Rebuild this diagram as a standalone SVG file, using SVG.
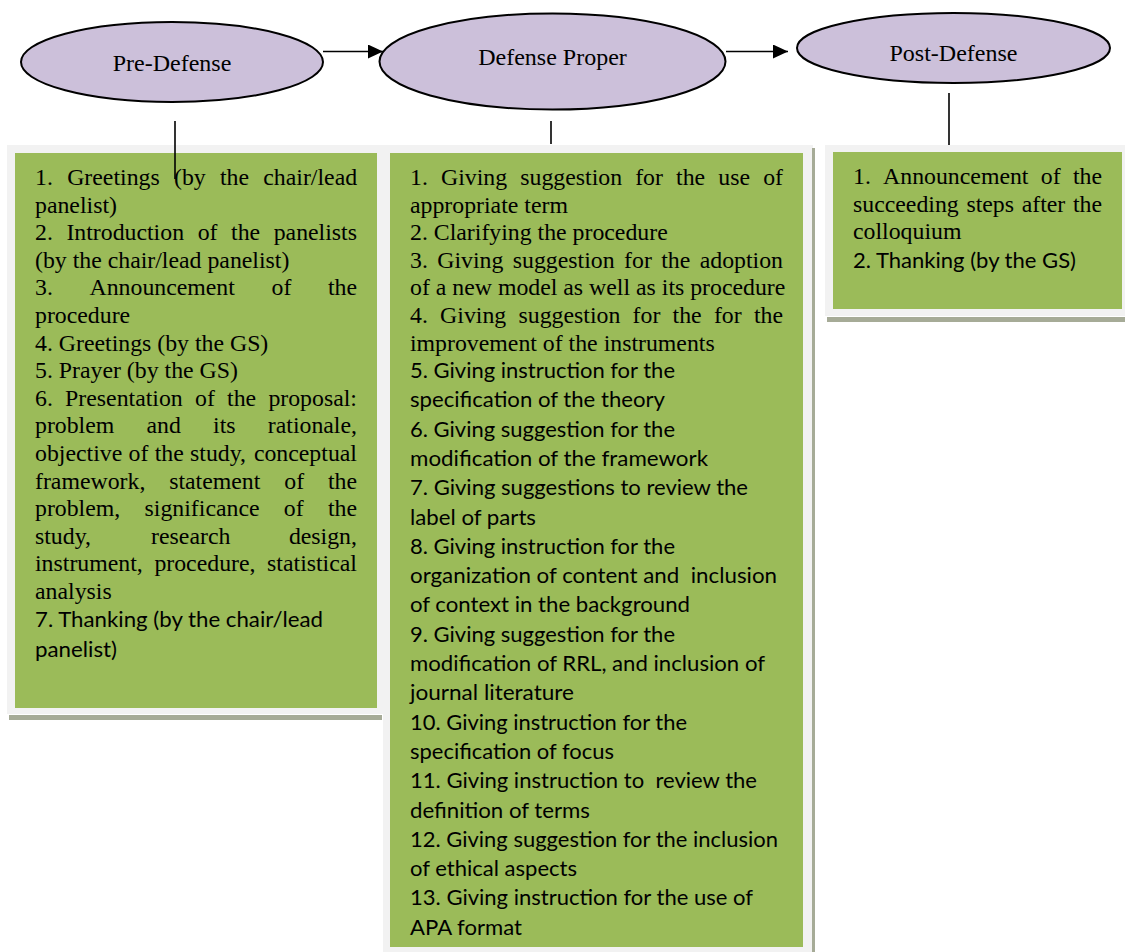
<svg xmlns="http://www.w3.org/2000/svg" width="1125" height="952" viewBox="0 0 1125 952">
<defs>
<style>
.ell{fill:#ccc0da;stroke:#000;stroke-width:2}
.lab{font-family:"Liberation Serif","Times New Roman",serif;font-size:24px;fill:#000;text-anchor:middle}
.frame{fill:#f2f2f2}
.green{fill:#9bbb59}
.shadow{fill:#a6ab97}
.t{font-family:"Liberation Serif","Times New Roman",serif;font-size:23.8px;fill:#000}
.c{font-family:Lato,"Open Sans",sans-serif;font-size:22px;fill:#000;white-space:pre}
.conn{stroke:#000;stroke-width:1.6;fill:none}
</style>
<marker id="arr" markerUnits="userSpaceOnUse" markerWidth="16" markerHeight="14" refX="15" refY="7" orient="auto">
<path d="M0,0 L15,7 L0,14 z" fill="#000"/>
</marker>
</defs>
<rect width="1125" height="952" fill="#fff"/>

<g id="box-pre">
<rect class="shadow" x="9" y="715" width="373" height="5"/>
<rect class="frame" x="7" y="145" width="376" height="569"/>
<rect class="green" x="15" y="153" width="362" height="555"/>
<text class="t" y="185"><tspan x="35">1.</tspan><tspan x="67.2">Greetings</tspan><tspan x="174">(by</tspan><tspan x="220">the</tspan><tspan x="263.3">chair/lead</tspan></text>
<text class="t" x="35" y="212.6">panelist)</text>
<text class="t" y="240.2"><tspan x="35">2.</tspan><tspan x="66.4">Introduction</tspan><tspan x="197.7">of</tspan><tspan x="231.1">the</tspan><tspan x="273.7">panelists</tspan></text>
<text class="t" x="35" y="267.8">(by the chair/lead panelist)</text>
<text class="t" y="295.4"><tspan x="35">3.</tspan><tspan x="89.5">Announcement</tspan><tspan x="271.5">of</tspan><tspan x="327.9">the</tspan></text>
<text class="t" x="35" y="323">procedure</text>
<text class="t" x="35" y="350.6">4. Greetings (by the GS)</text>
<text class="t" x="35" y="378.2">5. Prayer (by the GS)</text>
<text class="t" y="405.8"><tspan x="35">6.</tspan><tspan x="65.1">Presentation</tspan><tspan x="195">of</tspan><tspan x="227.1">the</tspan><tspan x="268.4">proposal:</tspan></text>
<text class="t" y="433.4"><tspan x="35">problem</tspan><tspan x="146.5">and</tspan><tspan x="213.1">its</tspan><tspan x="267.8">rationale,</tspan></text>
<text class="t" y="461"><tspan x="35">objective</tspan><tspan x="128.6">of</tspan><tspan x="154.7">the</tspan><tspan x="190.1">study,</tspan><tspan x="253.9">conceptual</tspan></text>
<text class="t" y="488.6"><tspan x="35">framework,</tspan><tspan x="169.2">statement</tspan><tspan x="284.3">of</tspan><tspan x="327.9">the</tspan></text>
<text class="t" y="516.2"><tspan x="35">problem,</tspan><tspan x="144.6">significance</tspan><tspan x="283.8">of</tspan><tspan x="327.9">the</tspan></text>
<text class="t" y="543.8"><tspan x="35">study,</tspan><tspan x="151.1">research</tspan><tspan x="288.9">design,</tspan></text>
<text class="t" y="571.4"><tspan x="35">instrument,</tspan><tspan x="154.4">procedure,</tspan><tspan x="267.1">statistical</tspan></text>
<text class="t" x="35" y="599">analysis</text>
<text class="c" x="35" y="627" textLength="288" lengthAdjust="spacingAndGlyphs">7. Thanking (by the chair/lead</text>
<text class="c" x="35" y="656.5" textLength="82" lengthAdjust="spacingAndGlyphs">panelist)</text>
</g>

<g id="box-proper">
<rect class="frame" x="383" y="145" width="430" height="807"/>
<rect class="shadow" x="812" y="148" width="3" height="804"/>
<rect class="green" x="390" y="153" width="413" height="794"/>
<text class="t" y="185"><tspan x="410">1.</tspan><tspan x="441">Giving</tspan><tspan x="520.3">suggestion</tspan><tspan x="635.2">for</tspan><tspan x="676.1">the</tspan><tspan x="718.3">use</tspan><tspan x="763.2">of</tspan></text>
<text class="t" x="410" y="212.6">appropriate term</text>
<text class="t" x="410" y="240.2">2. Clarifying the procedure</text>
<text class="t" y="267.8"><tspan x="410">3.</tspan><tspan x="437.3">Giving</tspan><tspan x="512.8">suggestion</tspan><tspan x="624.1">for</tspan><tspan x="661.2">the</tspan><tspan x="699.7">adoption</tspan></text>
<text class="t" x="410" y="295.4">of a new model as well as its procedure</text>
<text class="t" y="323"><tspan x="410">4.</tspan><tspan x="440.1">Giving</tspan><tspan x="518.5">suggestion</tspan><tspan x="632.6">for</tspan><tspan x="672.6">the</tspan><tspan x="713.9">for</tspan><tspan x="753.9">the</tspan></text>
<text class="t" x="410" y="350.6">improvement of the instruments</text>
<text class="c" x="410" y="378" textLength="265" lengthAdjust="spacingAndGlyphs">5. Giving instruction for the</text>
<text class="c" x="410" y="407.3" textLength="255" lengthAdjust="spacingAndGlyphs">specification of the theory</text>
<text class="c" x="410" y="436.6" textLength="265" lengthAdjust="spacingAndGlyphs">6. Giving suggestion for the</text>
<text class="c" x="410" y="465.9" textLength="298" lengthAdjust="spacingAndGlyphs">modification of the framework</text>
<text class="c" x="410" y="495.2" textLength="338" lengthAdjust="spacingAndGlyphs">7. Giving suggestions to review the</text>
<text class="c" x="410" y="524.5" textLength="126" lengthAdjust="spacingAndGlyphs">label of parts</text>
<text class="c" x="410" y="553.8" textLength="265" lengthAdjust="spacingAndGlyphs">8. Giving instruction for the</text>
<text class="c" x="410" y="583.1" textLength="367" lengthAdjust="spacingAndGlyphs">organization of content and  inclusion</text>
<text class="c" x="410" y="612.4" textLength="280" lengthAdjust="spacingAndGlyphs">of context in the background</text>
<text class="c" x="410" y="641.7" textLength="265" lengthAdjust="spacingAndGlyphs">9. Giving suggestion for the</text>
<text class="c" x="410" y="671" textLength="355" lengthAdjust="spacingAndGlyphs">modification of RRL, and inclusion of</text>
<text class="c" x="410" y="700.3" textLength="164" lengthAdjust="spacingAndGlyphs">journal literature</text>
<text class="c" x="410" y="729.6" textLength="277" lengthAdjust="spacingAndGlyphs">10. Giving instruction for the</text>
<text class="c" x="410" y="758.9" textLength="204" lengthAdjust="spacingAndGlyphs">specification of focus</text>
<text class="c" x="410" y="788.2" textLength="347" lengthAdjust="spacingAndGlyphs">11. Giving instruction to  review the</text>
<text class="c" x="410" y="817.5" textLength="180" lengthAdjust="spacingAndGlyphs">definition of terms</text>
<text class="c" x="410" y="846.8" textLength="368" lengthAdjust="spacingAndGlyphs">12. Giving suggestion for the inclusion</text>
<text class="c" x="410" y="876.1" textLength="167" lengthAdjust="spacingAndGlyphs">of ethical aspects</text>
<text class="c" x="410" y="905.4" textLength="343" lengthAdjust="spacingAndGlyphs">13. Giving instruction for the use of</text>
<text class="c" x="410" y="934.7" textLength="112" lengthAdjust="spacingAndGlyphs">APA format</text>
</g>

<g id="box-post">
<rect class="shadow" x="827" y="317" width="298" height="5"/>
<rect class="frame" x="825" y="145" width="300" height="171"/>
<rect class="green" x="833" y="152" width="289" height="157"/>
<text class="t" y="184"><tspan x="853">1.</tspan><tspan x="883.1">Announcement</tspan><tspan x="1040.8">of</tspan><tspan x="1072.9">the</tspan></text>
<text class="t" y="211.6"><tspan x="853">succeeding</tspan><tspan x="966.4">steps</tspan><tspan x="1021.7">after</tspan><tspan x="1072.9">the</tspan></text>
<text class="t" x="853" y="239.2">colloquium</text>
<text class="c" x="853" y="268" textLength="223" lengthAdjust="spacingAndGlyphs">2. Thanking (by the GS)</text>
</g>

<g id="node-pre">
<ellipse class="ell" cx="172" cy="62" rx="151" ry="40"/>
<text class="lab" x="172" y="71">Pre-Defense</text>
</g>
<g id="node-proper">
<ellipse class="ell" cx="552.5" cy="61.5" rx="173" ry="48"/>
<text class="lab" x="552.5" y="65">Defense Proper</text>
</g>
<g id="node-post">
<ellipse class="ell" cx="953.5" cy="48" rx="156.5" ry="35"/>
<text class="lab" x="953.5" y="61">Post-Defense</text>
</g>

<g id="connectors">
<line class="conn" x1="323" y1="51.5" x2="383" y2="51.5" marker-end="url(#arr)"/>
<line class="conn" x1="726" y1="51.5" x2="788" y2="51.5" marker-end="url(#arr)"/>
<line class="conn" x1="175" y1="121" x2="175" y2="179"/>
<line class="conn" x1="551" y1="121" x2="551" y2="144"/>
<line class="conn" x1="949" y1="93" x2="949" y2="145"/>
</g>
</svg>
